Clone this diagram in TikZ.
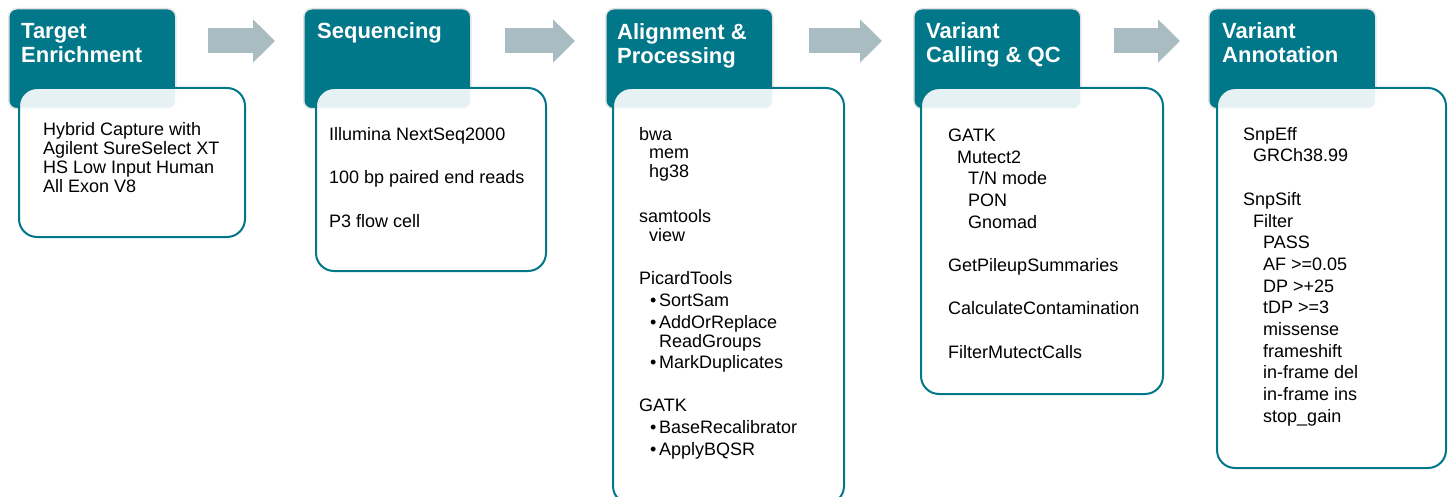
\documentclass[tikz,border=0pt]{standalone}
\usepackage{fontspec}
\setmainfont{Liberation Sans}
\usetikzlibrary{arrows.meta,calc}

\definecolor{stageteal}{HTML}{00788A}
\definecolor{arrowgrey}{HTML}{A9BCC2}

\newcommand{\toolbullet}{\makebox[9pt][l]{\textbullet}}

\begin{document}
\begin{tikzpicture}[x=1pt, y=-1pt,
    headbox/.style={rectangle, rounded corners=8pt, fill=stageteal, draw=gray!22,
      line width=1.5pt, minimum width=167pt, minimum height=100pt, inner sep=0pt, anchor=north west},
    bodybox/.style={rectangle, rounded corners=18pt, fill=white, fill opacity=0.9,
      draw=stageteal, line width=2pt, inner sep=0pt, anchor=north west},
    headtext/.style={anchor=north west, align=left, inner sep=0pt, text=white,
      font=\fontsize{22}{23.7}\selectfont\bfseries},
    bodytext/.style={anchor=north west, align=left, inner sep=0pt,
      font=\fontsize{18}{21.7}\selectfont},
    stagearrow/.style={draw=arrowgrey, line width=25pt, -{Triangle[length=22pt, width=42pt]}}]

  \useasboundingbox (0,0) rectangle (1448,497);
  \clip (0,0) rectangle (1448,497);

  % stage headers
  \node[headbox] (h1) at (8,8) {};
  \node[headbox] (h2) at (303,8) {};
  \node[headbox] (h3) at (605,8) {};
  \node[headbox] (h4) at (913,8) {};
  \node[headbox] (h5) at (1208,8) {};

  % stage bodies
  \node[bodybox, minimum width=226pt, minimum height=149pt] (b1) at (18,87) {};
  \node[bodybox, minimum width=230pt, minimum height=183pt] (b2) at (315,87) {};
  \node[bodybox, minimum width=231pt, minimum height=416pt] (b3) at (612,87) {};
  \node[bodybox, minimum width=242pt, minimum height=306pt] (b4) at (920,87) {};
  \node[bodybox, minimum width=229pt, minimum height=380pt] (b5) at (1216,87) {};

  \node[headtext] (t1) at (21,23.2) {Target\\Enrichment};
  \node[headtext] (t2) at (317,22.2) {Sequencing};
  \node[headtext] (t3) at (617,23.2) {Alignment \&\\Processing};
  \node[headtext] (t4) at (926,22.2) {Variant\\Calling \& QC};
  \node[headtext] (t5) at (1222,22.2) {Variant\\Annotation};

  \node[bodytext, font=\fontsize{18}{19}\selectfont] (c1) at (43,122)
    {Hybrid Capture with\\Agilent SureSelect XT\\HS Low Input Human\\All Exon V8};

  \node[bodytext] (c2) at (329,127)
    {Illumina NextSeq2000\\[21.7pt]100 bp paired end reads\\[21.7pt]P3 flow cell};

  \node[bodytext, font=\fontsize{18}{18.7}\selectfont] (c3) at (639,127)
    {bwa\\
     \hspace*{10pt}mem\\
     \hspace*{10pt}hg38\\[26pt]
     samtools\\
     \hspace*{10pt}view\\[24.5pt]
     PicardTools\\[4pt]
     \hspace*{11pt}\toolbullet SortSam\\[3pt]
     \hspace*{11pt}\toolbullet AddOrReplace\\
     \hspace*{20pt}ReadGroups\\[2pt]
     \hspace*{11pt}\toolbullet MarkDuplicates\\[25pt]
     GATK\\[3pt]
     \hspace*{11pt}\toolbullet BaseRecalibrator\\[3pt]
     \hspace*{11pt}\toolbullet ApplyBQSR};

  \node[bodytext] (c4) at (948,128.6)
    {GATK\\
     \hspace*{9pt}Mutect2\\
     \hspace*{20pt}T/N mode\\
     \hspace*{20pt}PON\\
     \hspace*{20pt}Gnomad\\[21.7pt]
     GetPileupSummaries\\[21.7pt]
     CalculateContamination\\[21.7pt]
     FilterMutectCalls};

  \node[bodytext] (c5) at (1243,127)
    {SnpEff\\
     \hspace*{10pt}GRCh38.99\\[21.7pt]
     SnpSift\\
     \hspace*{10pt}Filter\\
     \hspace*{20pt}PASS\\
     \hspace*{20pt}AF >=0.05\\
     \hspace*{20pt}DP >+25\\
     \hspace*{20pt}tDP >=3\\
     \hspace*{20pt}missense\\
     \hspace*{20pt}frameshift\\
     \hspace*{20pt}in-frame del\\
     \hspace*{20pt}in-frame ins\\
     \hspace*{20pt}stop\_gain};

  % flow between stages
  \draw[stagearrow] ($(h1.north east)+(31,33)$) -- ($(h2.north west)+(-28,33)$);
  \draw[stagearrow] ($(h2.north east)+(33,33)$) -- ($(h3.north west)+(-30,33)$);
  \draw[stagearrow] ($(h3.north east)+(35,33)$) -- ($(h4.north west)+(-31,33)$);
  \draw[stagearrow] ($(h4.north east)+(32,33)$) -- ($(h5.north west)+(-28,33)$);

\end{tikzpicture}
\end{document}
